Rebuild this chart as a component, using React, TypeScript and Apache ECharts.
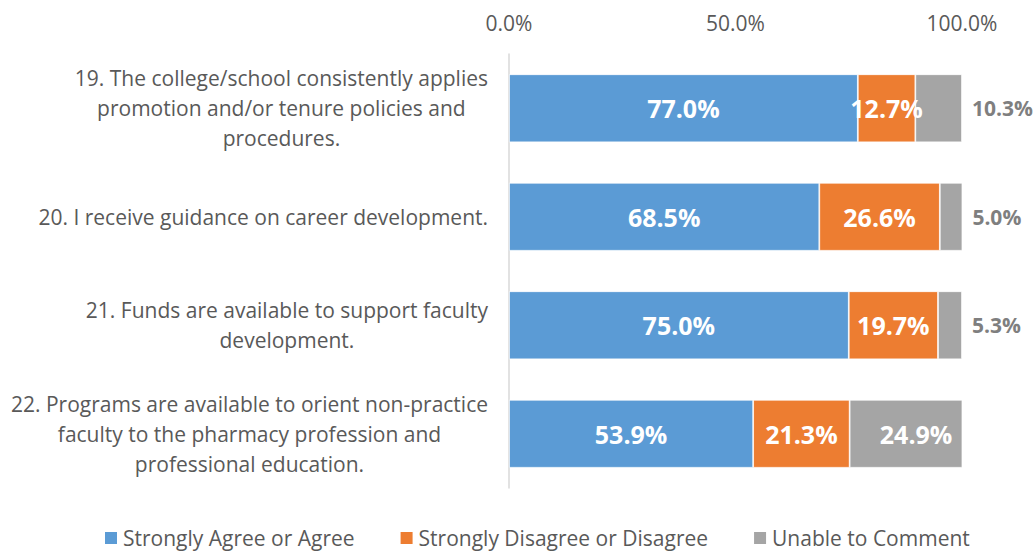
import React, { useEffect, useRef } from "react";
import * as echarts from "echarts";

const categories: string[] = [
  "19. The college/school consistently applies\npromotion and/or tenure policies and\nprocedures.",
  "20. I receive guidance on career development.",
  "21. Funds are available to support faculty\ndevelopment.",
  "22. Programs are available to orient non-practice\nfaculty to the pharmacy profession and\nprofessional education.",
];
const seriesNames: string[] = [
  "Strongly Agree or Agree",
  "Strongly Disagree or Disagree",
  "Unable to Comment",
];
const agree: number[] = [77.0, 68.5, 75.0, 53.9];
const disagree: number[] = [12.7, 26.6, 19.7, 21.3];
const unable: number[] = [10.3, 5.0, 5.3, 24.9];
const xTicks: number[] = [0, 50, 100];

const COLORS = ["#5B9BD5", "#ED7D31", "#A5A5A5"];
const FONT = "Open Sans";

export default function App() {
  const ref = useRef<HTMLDivElement>(null);
  useEffect(() => {
    if (!ref.current) return;
    const chart = echarts.init(ref.current, undefined, { renderer: "svg" });
    const insideLabel = {
      show: true,
      position: "inside",
      color: "#ffffff",
      fontWeight: "bold",
      fontSize: 25,
      fontFamily: FONT,
      formatter: (p: any) => Number(p.value).toFixed(1) + "%",
    };
    const unableData = unable.map((v) =>
      v < 15
        ? {
            value: v,
            label: {
              show: true,
              position: "right",
              distance: 10,
              color: "#7F7F7F",
              fontWeight: "bold",
              fontSize: 21,
              fontFamily: FONT,
            },
          }
        : {
            value: v,
            label: {
              show: true,
              position: "insideRight",
              distance: 10,
              color: "#ffffff",
              fontWeight: "bold",
              fontSize: 25,
              fontFamily: FONT,
            },
          }
    );
    const allData = [agree, disagree, unableData];
    chart.setOption({
      animation: false,
      grid: { left: 509, right: 73, top: 54, bottom: 64, containLabel: false },
      legend: {
        data: seriesNames,
        left: 103,
        top: 527,
        padding: 0,
        icon: "rect",
        itemWidth: 14,
        itemHeight: 14,
        itemGap: 44,
        textStyle: { color: "#595959", fontSize: 21, lineHeight: 22, fontFamily: FONT },
      },
      xAxis: {
        type: "value",
        position: "top",
        min: xTicks[0],
        max: xTicks[xTicks.length - 1],
        interval: xTicks[1] - xTicks[0],
        axisLine: { show: false },
        axisTick: { show: false },
        splitLine: { show: false },
        axisLabel: {
          color: "#595959",
          fontSize: 21,
          fontFamily: FONT,
          margin: 21,
          formatter: (v: number) => v.toFixed(1) + "%",
        },
      },
      yAxis: {
        type: "category",
        inverse: true,
        data: categories,
        axisLine: { show: true, lineStyle: { color: "#D9D9D9", width: 1.5 } },
        axisTick: { show: false },
        axisLabel: {
          margin: 21,
          align: "right",
          formatter: (v: string) =>
            v
              .split("\n")
              .map((l) => `{c|${l}}`)
              .join("\n"),
          rich: {
            c: {
              align: "center",
              color: "#595959",
              fontSize: 21,
              fontFamily: FONT,
              lineHeight: 30,
            },
          },
        },
      },
      series: seriesNames.map((name, i) => ({
        name,
        type: "bar",
        stack: "total",
        barWidth: 68,
        itemStyle: { color: COLORS[i], borderColor: "#ffffff", borderWidth: 0.75 },
        label: insideLabel,
        data: allData[i],
      })),
    });
    return () => chart.dispose();
  }, []);
  return <div ref={ref} style={{ width: 1035, height: 552, position: "absolute", left: 0, top: 0 }} />;
}
